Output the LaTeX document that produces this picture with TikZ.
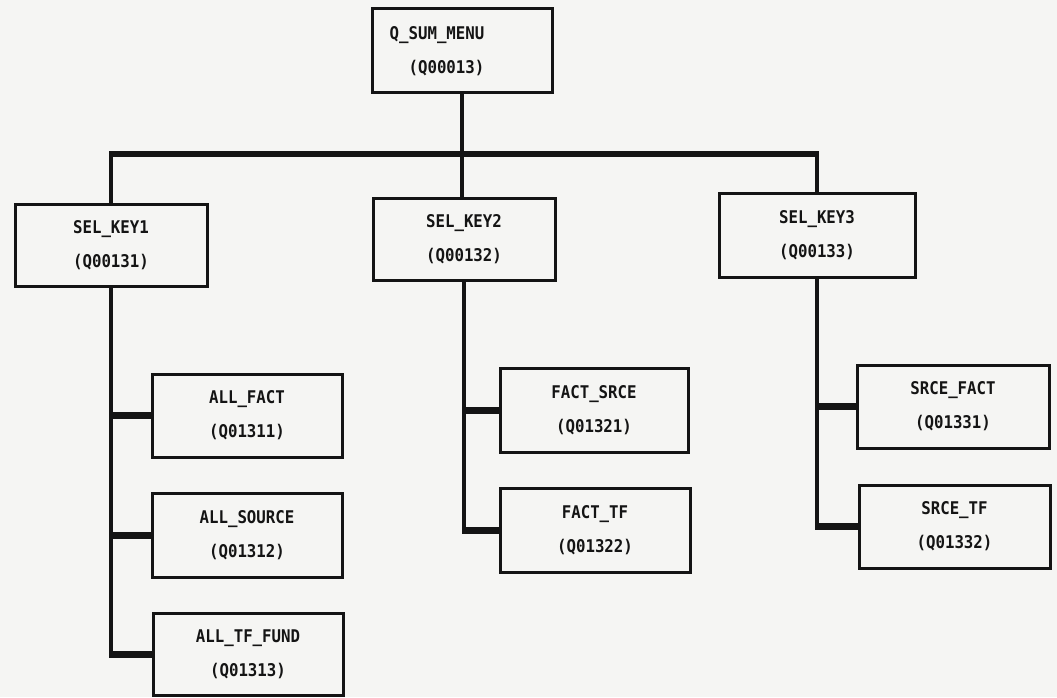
\documentclass[tikz,border=0pt]{standalone}
\usepackage{fontspec}
\newfontfamily\dmono{DejaVu Sans Mono}[FakeStretch=0.9]
\definecolor{paper}{RGB}{245,245,243}
\definecolor{ink}{RGB}{20,20,20}
\newcommand\mkbox[6]{\node[box, minimum width={(#4-#2)*1pt}, minimum height={(#5-#3)*1pt}] (#1) at ({(#2+#4)/2},{(#3+#5)/2}) {#6};}
\begin{document}
\begin{tikzpicture}[x=1pt,y=-1pt,
  lbl/.style={font=\dmono\bfseries\fontsize{17.5}{34}\selectfont, text=ink},
  box/.style={draw=ink, line width=3pt, inner sep=0pt, align=center, lbl},
  vline/.style={draw=ink, line width=3.5pt},
  barline/.style={draw=ink, line width=6.5pt, shorten <=-1.75pt, shorten >=-1.75pt},
  stub/.style={draw=ink, line width=7pt, shorten <=-1.75pt}]
\fill[paper] (0,0) rectangle (1057,697);
\useasboundingbox (0,0) rectangle (1057,697);
% boxes
\mkbox{q}{372}{8}{552}{92}{}
\node[lbl, align=right] (tq) at (437,51) {Q\_SUM\_MENU\\(Q00013)};
\mkbox{k1}{15}{204}{207}{286}{SEL\_KEY1\\(Q00131)}
\mkbox{k2}{373}{198}{555}{280}{SEL\_KEY2\\(Q00132)}
\mkbox{k3}{719}{193}{915}{277}{SEL\_KEY3\\(Q00133)}
\mkbox{a1}{152}{374}{342}{457}{ALL\_FACT\\(Q01311)}
\mkbox{a2}{152}{493}{342}{577}{ALL\_SOURCE\\(Q01312)}
\mkbox{a3}{153}{613}{343}{695}{ALL\_TF\_FUND\\(Q01313)}
\mkbox{f1}{500}{368}{688}{452}{FACT\_SRCE\\(Q01321)}
\mkbox{f2}{500}{488}{690}{572}{FACT\_TF\\(Q01322)}
\mkbox{s1}{857}{365}{1049}{448}{SRCE\_FACT\\(Q01331)}
\mkbox{s2}{859}{485}{1050}{568}{SRCE\_TF\\(Q01332)}
% top connectors
\coordinate (bar) at (462,154);
\draw[vline] (q.south) -- (bar);
\draw[barline] (k1.north |- bar) -- (k3.north |- bar);
\draw[vline] (k1.north |- bar) -- (k1.north);
\draw[vline] (bar) -- (bar |- k2.north);
\draw[vline] (k3.north |- bar) -- (k3.north);
% column 1
\draw[vline] (k1.south) -- (k1.south |- a3.west);
\draw[stub] (k1.south |- a1.west) -- (a1.west);
\draw[stub] (k1.south |- a2.west) -- (a2.west);
\draw[stub] (k1.south |- a3.west) -- (a3.west);
% column 2
\draw[vline] (k2.south) -- (k2.south |- f2.west);
\draw[stub] (k2.south |- f1.west) -- (f1.west);
\draw[stub] (k2.south |- f2.west) -- (f2.west);
% column 3
\draw[vline] (k3.south) -- (k3.south |- s2.west);
\draw[stub] (k3.south |- s1.west) -- (s1.west);
\draw[stub] (k3.south |- s2.west) -- (s2.west);
\end{tikzpicture}
\end{document}
